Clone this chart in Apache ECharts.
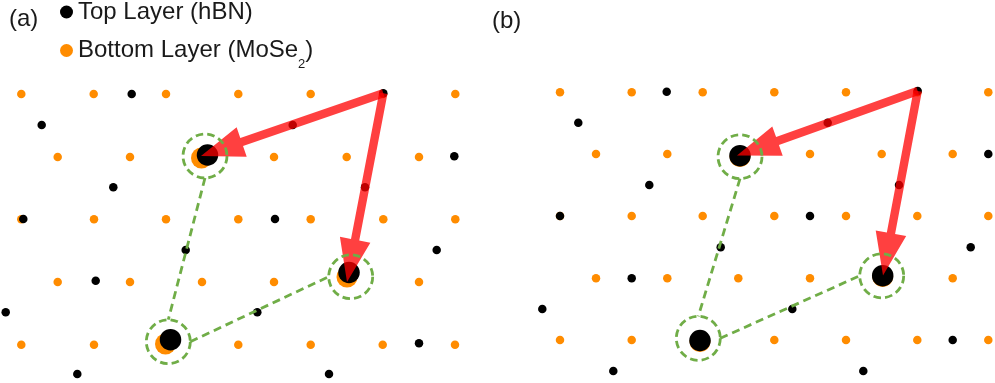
<!DOCTYPE html>
<html>
<head>
<meta charset="utf-8">
<script src="https://cdn.jsdelivr.net/npm/echarts@6/dist/echarts.min.js"></script>
<style>
  html, body { margin: 0; padding: 0; background: #fff; }
  #chart { width: 995px; height: 383px; }
</style>
</head>
<body>
<div id="chart"></div>
<script>
// Stacked-lattice schematic: hBN (top) over MoSe2 (bottom), two stacking cases.
// Positions are in the plane's length units (x to the right, y downward).

const TOP_NAME = 'Top Layer (hBN)';
const BOTTOM_NAME = 'Bottom Layer (MoSe2)';
const panelLabels = ['(a)', '(b)'];

// ---- panel (a) ----
const bottomSitesA = [
  [21.3, 94], [93.7, 94], [166, 94], [238.3, 94], [310.7, 94], [383, 94], [455.3, 94],
  [57.7, 157], [130, 157], [202, 157], [274, 157], [346.7, 157], [419, 157],
  [21.3, 219.3], [94, 219.3], [166, 219.3], [238.3, 219.3], [310.7, 219.3], [383.3, 219.3], [455.3, 219.3],
  [57.7, 282], [130, 282], [202, 282], [274, 282], [346.7, 282], [419, 282],
  [21.3, 344.7], [94, 344.7], [166.7, 344.7], [238.3, 344.7], [310.7, 344.7], [382.7, 344.7], [455, 344.7]
];
const topSitesA = [
  [131.7, 94], [383.3, 93.3], [41.7, 125], [292.7, 125], [454.3, 156.3],
  [113.3, 187.3], [365, 187.3], [23.3, 219], [275, 219], [185.7, 250],
  [436.7, 250], [95.7, 280.7], [5.7, 312.3], [257.3, 312.3], [419, 343.3],
  [77.3, 374], [329, 374]
];
const alignedBottomA = [[201.5, 158], [347, 277], [165.5, 344]];
const alignedTopA = [[207.5, 155], [349, 272.5], [170.5, 339.7]];
const ringsA = [[205, 156], [350.7, 276.7], [168.3, 341.7]];
// [x0, y0, x1, y1]
const vectorsA = [[383.3, 93.3, 201, 156], [383.3, 93.3, 347, 282]];
// [x0, y0, x1, y1, mode]  mode 0: bottom->top of rings, mode 1: right->left
const linksA = [[205, 156, 168.3, 341.7, 0], [168.3, 341.7, 350.7, 276.7, 1]];

// ---- panel (b) ----
const bottomSitesB = [
  [560, 92.3], [631.7, 92.3], [702.7, 92.3], [774.3, 92.3], [846, 92.3], [917.3, 92.3], [988.3, 92.3],
  [596, 154], [667.3, 154], [738.7, 154], [810, 154], [881.7, 154], [952.7, 154],
  [560, 216], [631.7, 216], [702.7, 216], [774.3, 216], [846, 216], [917.3, 216], [988.3, 216],
  [596, 278.3], [667.3, 278.3], [738.3, 278.3], [810, 278.3], [881.7, 278.3], [952.7, 278.3],
  [560, 340], [631.7, 340], [702.7, 340], [774.3, 340], [846, 340], [917.3, 340], [988.3, 340]
];
const topSitesB = [
  [666.7, 91.7], [917.7, 91], [578.3, 122.7], [827.7, 122.7], [988.3, 154],
  [649.3, 185], [899, 185], [560, 216], [810, 216], [720.7, 247.3],
  [970.7, 247.3], [631.7, 278.3], [542.3, 309], [792.3, 309], [952.7, 340],
  [613.3, 371], [863.3, 371]
];
const alignedBottomB = [[740, 156.5], [882.7, 276.5], [700, 341.5]];
const alignedTopB = [[740, 155.7], [882.7, 275.7], [700, 340.5]];
const ringsB = [[740, 156.7], [881.7, 275.8], [698.3, 338.3]];
const vectorsB = [[917.7, 91, 737, 155.5], [917.7, 91, 883, 275.5]];
const linksB = [[740, 156.7, 698.3, 338.3, 0], [698.3, 338.3, 881.7, 275.8, 1]];

const ORANGE = '#ff8c00';
const GREEN = '#70ad47';
const FONT = 'Liberation Sans, Arial, sans-serif';
const RING_SIZE = 44;

const chart = echarts.init(document.getElementById('chart'), null, { renderer: 'canvas' });

function renderVector(params, api) {
  const p0 = api.coord([api.value(0), api.value(1)]);
  const p1 = api.coord([api.value(2), api.value(3)]);
  const dx = p1[0] - p0[0], dy = p1[1] - p0[1];
  const len = Math.hypot(dx, dy);
  const ux = dx / len, uy = dy / len;
  const nx = -uy, ny = ux;
  const shaft = 4.2, headLen = 43, headHalf = 15.5;
  const bx = p1[0] - ux * headLen, by = p1[1] - uy * headLen;
  return {
    type: 'polygon',
    shape: {
      points: [
        [p0[0] + nx * shaft, p0[1] + ny * shaft],
        [bx + nx * shaft, by + ny * shaft],
        [bx + nx * headHalf, by + ny * headHalf],
        [p1[0], p1[1]],
        [bx - nx * headHalf, by - ny * headHalf],
        [bx - nx * shaft, by - ny * shaft],
        [p0[0] - nx * shaft, p0[1] - ny * shaft]
      ]
    },
    style: { fill: 'rgba(255,0,0,0.75)' }
  };
}

function renderLink(params, api) {
  const a = api.coord([api.value(0), api.value(1)]);
  const b = api.coord([api.value(2), api.value(3)]);
  const r = RING_SIZE / 2;
  let s, e;
  if (api.value(4) === 0) {
    s = [a[0], a[1] + r];
    e = [b[0], b[1] - r];
  } else {
    s = [a[0] + r, a[1]];
    e = [b[0] - r, b[1]];
  }
  return {
    type: 'line',
    shape: { x1: s[0], y1: s[1], x2: e[0], y2: e[1] },
    style: { stroke: GREEN, lineWidth: 2.8, lineDash: [8, 5], fill: null }
  };
}

const labelText = { fontFamily: FONT, fontSize: 24, fontWeight: 'normal', color: '#1a1a1a', lineHeight: 24 };

const option = {
  animation: false,
  backgroundColor: '#fff',
  title: [
    { text: panelLabels[0], left: 9, top: 7, padding: 0, textStyle: labelText },
    { text: panelLabels[1], left: 492, top: 9.5, padding: 0, textStyle: labelText }
  ],
  legend: {
    data: [TOP_NAME, BOTTOM_NAME],
    orient: 'vertical',
    left: 60,
    top: 0,
    padding: 0,
    itemGap: 6,
    itemWidth: 13,
    itemHeight: 13,
    icon: 'circle',
    selectedMode: false,
    formatter: n => n.replace('MoSe2', 'MoSe{sub|2}'),
    textStyle: {
      fontFamily: FONT, fontSize: 24, color: '#1a1a1a', lineHeight: 24,
      rich: { sub: { fontFamily: FONT, fontSize: 13, lineHeight: 13, padding: [28, 0, 0, 0], color: '#1a1a1a' } }
    }
  },
  grid: { left: 0, right: 0, top: 0, bottom: 0 },
  xAxis: { type: 'value', min: 0, max: 995, show: false },
  yAxis: { type: 'value', min: 0, max: 383, inverse: true, show: false },
  series: [
    {
      name: BOTTOM_NAME, type: 'scatter', z: 1, silent: true,
      symbol: 'circle', symbolSize: 8.5,
      itemStyle: { color: ORANGE, opacity: 1 },
      data: bottomSitesA.concat(bottomSitesB)
    },
    {
      name: TOP_NAME, type: 'scatter', z: 2, silent: true,
      symbol: 'circle', symbolSize: 8.5,
      itemStyle: { color: '#000', opacity: 1 },
      data: topSitesA.concat(topSitesB)
    },
    {
      name: BOTTOM_NAME, type: 'scatter', z: 3, silent: true,
      symbol: 'circle', symbolSize: 21,
      itemStyle: { color: ORANGE, opacity: 1 },
      data: alignedBottomA.concat(alignedBottomB)
    },
    {
      name: TOP_NAME, type: 'scatter', z: 4, silent: true,
      symbol: 'circle', symbolSize: 21.5,
      itemStyle: { color: '#000', opacity: 1 },
      data: alignedTopA.concat(alignedTopB)
    },
    {
      name: 'vectors', type: 'custom', z: 5, silent: true,
      renderItem: renderVector,
      data: vectorsA.concat(vectorsB)
    },
    {
      name: 'rings', type: 'scatter', z: 6, silent: true,
      symbol: 'circle', symbolSize: RING_SIZE,
      itemStyle: { color: 'rgba(0,0,0,0)', opacity: 1, borderColor: GREEN, borderWidth: 2.8, borderType: [7.5, 4.2] },
      data: ringsA.concat(ringsB)
    },
    {
      name: 'links', type: 'custom', z: 6, silent: true,
      renderItem: renderLink,
      data: linksA.concat(linksB)
    }
  ]
};

chart.setOption(option);
</script>
</body>
</html>
